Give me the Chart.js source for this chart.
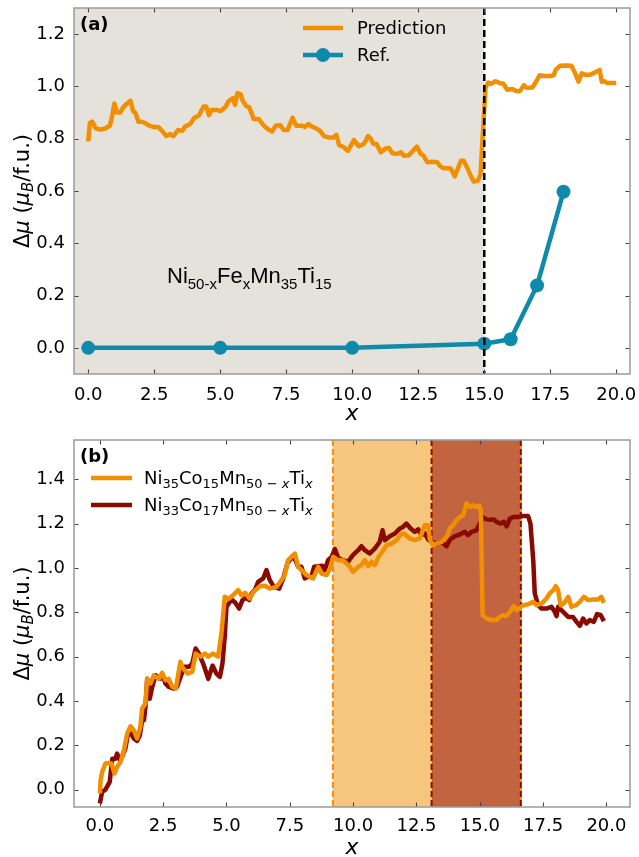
<!DOCTYPE html>
<html><head><meta charset="utf-8">
<script src="https://cdn.jsdelivr.net/npm/chart.js@4.4.1/dist/chart.umd.min.js"></script>
<style>
html,body{margin:0;padding:0;background:#fff;}
#wrap{position:relative;width:639px;height:857px;overflow:hidden;}
canvas{position:absolute;left:0;}
</style></head><body>
<div id="wrap">
<canvas id="c1" width="639" height="428" style="top:0px"></canvas>
<canvas id="c2" width="639" height="429" style="top:428px"></canvas>
</div>
<script>
// ---------- data ----------
const xTickVals = [0, 2.5, 5, 7.5, 10, 12.5, 15, 17.5, 20];
const yTicksA = [0, 0.2, 0.4, 0.6, 0.8, 1.0, 1.2];
const yTicksB = [0, 0.2, 0.4, 0.6, 0.8, 1.0, 1.2, 1.4];

const predX = [0,0.06,0.15,0.28,0.47,0.66,0.82,0.91,0.99,1.09,1.21,1.32,1.47,1.6,1.7,1.78,1.9,2.03,2.15,2.31,2.46,2.65,2.77,2.96,3.1,3.22,3.4,3.56,3.67,3.86,4.02,4.18,4.37,4.47,4.57,4.67,4.87,5.0,5.19,5.31,5.47,5.56,5.65,5.77,5.85,5.98,6.1,6.27,6.46,6.65,6.8,6.97,7.1,7.27,7.4,7.55,7.74,7.87,8.08,8.21,8.34,8.46,8.62,8.78,8.93,9.1,9.3,9.4,9.5,9.68,9.83,9.93,10.06,10.25,10.44,10.6,10.7,10.8,10.92,11.08,11.27,11.39,11.52,11.7,11.85,11.95,12.14,12.3,12.45,12.59,12.7,12.84,13.02,13.22,13.33,13.46,13.65,13.74,13.88,13.99,14.12,14.22,14.35,14.48,14.6,14.76,14.86,14.92,15.0,15.05,15.15,15.25,15.35,15.43,15.5,15.6,15.73,15.87,16.06,16.2,16.35,16.5,16.6,16.82,16.93,17.1,17.25,17.5,17.63,17.7,17.87,18.12,18.3,18.43,18.57,18.69,18.8,19.0,19.13,19.37,19.45,19.55,19.66,20.0];
const predY = [0.79,0.86,0.865,0.84,0.835,0.84,0.85,0.89,0.935,0.9,0.9,0.92,0.935,0.945,0.905,0.9,0.865,0.865,0.86,0.85,0.845,0.845,0.833,0.81,0.818,0.81,0.833,0.83,0.847,0.856,0.88,0.888,0.923,0.923,0.89,0.91,0.91,0.905,0.92,0.943,0.955,0.93,0.975,0.97,0.945,0.925,0.92,0.875,0.875,0.85,0.837,0.828,0.85,0.852,0.833,0.833,0.88,0.85,0.85,0.845,0.856,0.847,0.84,0.83,0.81,0.805,0.805,0.815,0.776,0.767,0.754,0.77,0.795,0.771,0.78,0.81,0.8,0.78,0.78,0.748,0.763,0.765,0.744,0.742,0.748,0.735,0.737,0.754,0.77,0.742,0.735,0.71,0.712,0.71,0.695,0.687,0.687,0.685,0.656,0.684,0.716,0.716,0.69,0.66,0.636,0.64,0.665,0.773,0.913,0.996,1.015,1.01,1.015,1.02,1.017,1.012,1.01,0.987,0.99,0.983,0.982,1.005,0.995,0.996,1.013,1.043,1.04,1.04,1.043,1.063,1.079,1.08,1.079,1.053,1.018,1.05,1.045,1.045,1.05,1.063,1.018,1.02,1.013,1.013];

const refX = [0, 5, 10, 15, 16, 17, 18];
const refY = [0, 0, 0, 0.016, 0.033, 0.239, 0.597];

const co15X = [0,0.03,0.09,0.22,0.36,0.46,0.58,0.68,0.82,0.95,1.08,1.21,1.34,1.47,1.6,1.67,1.8,1.87,2.0,2.13,2.33,2.46,2.59,2.72,2.86,3.0,3.18,3.25,3.45,3.65,3.78,3.97,4.15,4.28,4.47,4.67,4.8,4.93,5.07,5.26,5.46,5.59,5.73,5.92,6.05,6.32,6.51,6.71,6.97,7.17,7.3,7.43,7.7,7.83,8.16,8.42,8.62,8.75,8.95,9.1,9.21,9.41,9.6,9.87,10.0,10.2,10.33,10.46,10.6,10.73,10.86,10.99,11.19,11.32,11.52,11.71,11.91,12.04,12.24,12.43,12.63,12.83,12.96,13.03,13.16,13.29,13.49,13.69,13.82,13.95,14.08,14.21,14.34,14.48,14.61,14.74,14.87,14.98,15.04,15.11,15.27,15.46,15.66,15.79,15.92,16.05,16.19,16.34,16.45,16.58,16.71,16.91,17.11,17.24,17.44,17.63,17.76,17.9,18.0,18.09,18.19,18.32,18.49,18.62,18.79,18.95,19.11,19.28,19.47,19.67,19.8,19.9];
const co15Y = [-0.016,0.043,0.08,0.118,0.12,0.118,0.073,0.103,0.125,0.178,0.253,0.286,0.268,0.231,0.283,0.366,0.389,0.5,0.479,0.516,0.5,0.527,0.494,0.5,0.464,0.456,0.577,0.554,0.524,0.531,0.614,0.6,0.614,0.6,0.614,0.6,0.705,0.87,0.86,0.877,0.9,0.877,0.888,0.862,0.89,0.918,0.92,0.907,0.915,0.945,0.968,1.035,1.065,1.005,0.968,0.953,1.005,0.975,0.968,1.0,1.05,1.035,1.035,1.005,0.982,1.005,1.013,1.035,1.008,1.028,1.013,1.047,1.08,1.103,1.11,1.125,1.155,1.152,1.133,1.125,1.133,1.193,1.193,1.128,1.103,1.11,1.118,1.14,1.178,1.193,1.215,1.23,1.238,1.291,1.275,1.283,1.275,1.28,1.26,0.787,0.772,0.765,0.765,0.78,0.787,0.783,0.802,0.828,0.81,0.82,0.832,0.836,0.847,0.832,0.84,0.862,0.885,0.9,0.918,0.9,0.832,0.84,0.87,0.825,0.832,0.847,0.87,0.855,0.858,0.858,0.87,0.843];

const co17X = [0,0.09,0.22,0.39,0.49,0.62,0.68,0.79,0.88,1.01,1.1,1.24,1.34,1.47,1.58,1.67,1.74,1.8,1.87,1.97,2.07,2.2,2.37,2.5,2.59,2.72,2.92,3.05,3.21,3.34,3.51,3.65,3.78,3.91,4.08,4.28,4.45,4.6,4.74,4.84,4.93,5.0,5.2,5.35,5.5,5.63,5.79,5.9,5.99,6.12,6.25,6.45,6.58,6.71,6.87,7.08,7.24,7.4,7.57,7.7,7.83,7.96,8.09,8.22,8.35,8.46,8.62,8.78,8.88,9.01,9.15,9.28,9.41,9.6,9.8,9.99,10.2,10.33,10.46,10.66,10.86,11.05,11.16,11.25,11.45,11.65,11.84,11.97,12.1,12.27,12.43,12.57,12.7,12.83,12.96,13.1,13.29,13.49,13.69,13.82,14.02,14.15,14.28,14.41,14.54,14.67,14.87,15.0,15.13,15.27,15.42,15.55,15.66,15.82,15.95,16.06,16.19,16.32,16.52,16.71,16.91,17.0,17.11,17.17,17.3,17.44,17.63,17.83,17.96,18.03,18.09,18.29,18.49,18.68,18.82,18.95,19.08,19.21,19.34,19.5,19.63,19.77,19.9];
const co17Y = [-0.062,-0.01,0.0,0.035,0.14,0.14,0.163,0.133,0.15,0.186,0.246,0.253,0.231,0.22,0.246,0.313,0.313,0.373,0.5,0.41,0.464,0.516,0.5,0.51,0.479,0.464,0.456,0.464,0.516,0.554,0.554,0.569,0.637,0.614,0.569,0.5,0.56,0.524,0.509,0.569,0.69,0.825,0.858,0.843,0.817,0.855,0.867,0.855,0.885,0.9,0.937,0.953,0.99,0.945,0.915,0.907,0.953,1.02,1.046,1.04,1.005,1.005,0.953,0.96,0.96,1.005,1.008,1.01,0.99,1.035,1.05,1.085,1.045,1.035,1.028,1.058,1.08,1.098,1.08,1.065,1.088,1.118,1.17,1.125,1.143,1.155,1.178,1.185,1.2,1.178,1.163,1.174,1.148,1.156,1.128,1.118,1.11,1.118,1.098,1.128,1.143,1.148,1.155,1.163,1.148,1.163,1.17,1.2,1.228,1.219,1.217,1.219,1.208,1.2,1.208,1.188,1.223,1.23,1.23,1.234,1.234,1.2,1.035,0.885,0.832,0.817,0.817,0.825,0.802,0.783,0.825,0.802,0.779,0.779,0.757,0.739,0.772,0.75,0.765,0.757,0.792,0.788,0.76];

const shadeA = [null, 15];          // grey region x range (left edge .. 15)
const bandsB = [[9.2, 13.1], [13.1, 16.62]];

// ---------- style ----------
const ORANGE = '#f28f00', TEAL = '#0f8aaa', DARKRED = '#8b0a00';
const LW = 4.5;
const FONT = "'DejaVu Sans', sans-serif";
Chart.defaults.font.family = FONT;
Chart.defaults.color = '#000';

const pts = (xs, ys) => xs.map((x, i) => ({x, y: ys[i]}));

function xScale(min, max, h, pad) {
  return {
    type: 'linear', min, max,
    grid: {display: false, drawTicks: false}, border: {display: false},
    ticks: {font: {size: 18}, color: '#000', padding: pad, maxRotation: 0, autoSkip: false,
            callback: v => Number(v).toFixed(1)},
    afterBuildTicks: s => { s.ticks = xTickVals.map(v => ({value: v})); },
    afterFit: s => { s.height = h; s.paddingLeft = 0; s.paddingRight = 0; }
  };
}
function yScale(min, max, ticks) {
  return {
    type: 'linear', min, max,
    grid: {display: false, drawTicks: false}, border: {display: false},
    ticks: {font: {size: 18}, color: '#000', padding: 9, autoSkip: false,
            callback: v => Number(v).toFixed(1)},
    afterBuildTicks: s => { s.ticks = ticks.map(v => ({value: v})); },
    afterFit: s => { s.width = 74; s.paddingTop = 0; s.paddingBottom = 0; }
  };
}

function drawRich(ctx, parts, x, y, align) {
  let w = 0;
  parts.forEach(p => { ctx.font = p[1]; w += ctx.measureText(p[0]).width; });
  let cx = align === 'center' ? x - w / 2 : x;
  parts.forEach(p => { ctx.font = p[1]; ctx.fillText(p[0], cx, y + (p[2] || 0)); cx += ctx.measureText(p[0]).width; });
}

function frameAndTicks(chart, yt) {
  const {ctx, chartArea: a, scales: {x, y}} = chart;
  ctx.save();
  ctx.strokeStyle = '#444'; ctx.lineWidth = 1.1; ctx.setLineDash([]);
  ctx.beginPath();
  xTickVals.forEach(v => {
    const px = Math.round(x.getPixelForValue(v)) + 0.5;
    ctx.moveTo(px, a.bottom); ctx.lineTo(px, a.bottom - 4.5);
    ctx.moveTo(px, a.top); ctx.lineTo(px, a.top + 4.5);
  });
  yt.forEach(v => {
    const py = Math.round(y.getPixelForValue(v)) + 0.5;
    ctx.moveTo(a.left, py); ctx.lineTo(a.left + 4.5, py);
    ctx.moveTo(a.right, py); ctx.lineTo(a.right - 4.5, py);
  });
  ctx.stroke();
  ctx.strokeStyle = '#9a9a9a'; ctx.lineWidth = 1.5;
  ctx.strokeRect(a.left, a.top, a.right - a.left, a.bottom - a.top);
  ctx.restore();
}

function axisTitles(chart, xBase) {
  const {ctx, chartArea: a} = chart;
  ctx.save();
  ctx.fillStyle = '#000'; ctx.textBaseline = 'alphabetic';
  ctx.font = "italic 22px " + FONT; ctx.textAlign = 'center';
  ctx.fillText('x', (a.left + a.right) / 2, xBase);
  ctx.textAlign = 'left';
  ctx.translate(29, (a.top + a.bottom) / 2);
  ctx.rotate(-Math.PI / 2);
  const R = "21px " + FONT, I = "italic 21px " + FONT, IS = "italic 15px " + FONT;
  drawRich(ctx, [['Δ', R], ['μ', I], [' (', R], ['μ', I], ['B', IS, 4], ['/f.u.)', R]], 0, 0, 'center');
  ctx.restore();
}

// ---------- panel (a) ----------
const plugA = {
  id: 'decoA',
  beforeDatasetsDraw(chart) {
    const {ctx, chartArea: a, scales: {x}} = chart;
    ctx.save();
    ctx.fillStyle = '#e5e2dc';
    const x1 = x.getPixelForValue(shadeA[1]);
    ctx.fillRect(a.left, a.top, x1 - a.left, a.bottom - a.top);
    ctx.restore();
  },
  afterDatasetsDraw(chart) {
    const {ctx, chartArea: a, scales: {x}} = chart;
    ctx.save();
    ctx.strokeStyle = '#000'; ctx.lineWidth = 2.5; ctx.setLineDash([7, 4]);
    const px = x.getPixelForValue(15);
    ctx.beginPath(); ctx.moveTo(px, a.top); ctx.lineTo(px, a.bottom); ctx.stroke();
    ctx.restore();
  },
  afterDraw(chart) {
    const {ctx} = chart;
    frameAndTicks(chart, yTicksA);
    axisTitles(chart, 420);
    ctx.save();
    ctx.fillStyle = '#000'; ctx.textBaseline = 'alphabetic'; ctx.textAlign = 'left';
    ctx.font = "bold 18px " + FONT; ctx.fillText('(a)', 80, 30);
    // legend
    ctx.lineWidth = LW; ctx.lineCap = 'butt';
    ctx.strokeStyle = ORANGE; ctx.beginPath(); ctx.moveTo(303, 28); ctx.lineTo(343, 28); ctx.stroke();
    ctx.strokeStyle = TEAL; ctx.beginPath(); ctx.moveTo(303, 55); ctx.lineTo(343, 55); ctx.stroke();
    ctx.fillStyle = TEAL; ctx.beginPath(); ctx.arc(323, 55, 7, 0, 2 * Math.PI); ctx.fill();
    ctx.fillStyle = '#000'; ctx.font = "18px " + FONT;
    ctx.fillText('Prediction', 357, 34);
    ctx.fillText('Ref.', 357, 61);
    // composition label
    const L = "22px 'Liberation Sans', Arial, sans-serif", S = "15px 'Liberation Sans', Arial, sans-serif";
    drawRich(ctx, [['Ni', L], ['50-x', S, 6], ['Fe', L], ['x', S, 6], ['Mn', L], ['35', S, 6], ['Ti', L], ['15', S, 6]], 167, 283, 'left');
    ctx.restore();
  }
};

new Chart(document.getElementById('c1'), {
  type: 'line',
  data: {datasets: [
    {label: 'Prediction', data: pts(predX, predY), borderColor: ORANGE, borderWidth: LW, pointRadius: 0,
     tension: 0, borderJoinStyle: 'round', fill: false, clip: 0},
    {label: 'Ref.', data: pts(refX, refY), borderColor: TEAL, backgroundColor: TEAL, borderWidth: LW,
     pointRadius: 7, pointBorderWidth: 0, pointBackgroundColor: TEAL, tension: 0, fill: false, clip: 0}
  ]},
  options: {
    responsive: false, animation: false, devicePixelRatio: 1,
    layout: {padding: {top: 8, right: 9, left: 0, bottom: 0}},
    plugins: {legend: {display: false}, tooltip: {enabled: false}},
    scales: {x: xScale(-0.54, 20.52, 54, 11), y: yScale(-0.1, 1.3, yTicksA)}
  },
  plugins: [plugA]
});

// ---------- panel (b) ----------
const plugB = {
  id: 'decoB',
  beforeDatasetsDraw(chart) {
    const {ctx, chartArea: a, scales: {x}} = chart;
    ctx.save();
    const b0 = bandsB[0].map(v => x.getPixelForValue(v));
    const b1 = bandsB[1].map(v => x.getPixelForValue(v));
    ctx.fillStyle = '#f6c67f'; ctx.fillRect(b0[0], a.top, b0[1] - b0[0], a.bottom - a.top);
    ctx.fillStyle = '#c1643f'; ctx.fillRect(b1[0], a.top, b1[1] - b1[0], a.bottom - a.top);
    ctx.lineWidth = 2; ctx.setLineDash([6, 3]);
    const vline = (px, c, off) => { ctx.strokeStyle = c; ctx.lineDashOffset = off || 0; ctx.beginPath(); ctx.moveTo(px, a.top); ctx.lineTo(px, a.bottom); ctx.stroke(); };
    vline(b0[0], ORANGE);
    vline(b0[1], ORANGE);
    vline(b1[0], DARKRED);
    vline(b1[1], ORANGE, 4.5);
    vline(b1[1], DARKRED);
    ctx.restore();
  },
  afterDraw(chart) {
    const {ctx} = chart;
    frameAndTicks(chart, yTicksB);
    axisTitles(chart, 426);
    ctx.save();
    ctx.fillStyle = '#000'; ctx.textBaseline = 'alphabetic'; ctx.textAlign = 'left';
    ctx.font = "bold 18px " + FONT; ctx.fillText('(b)', 80, 34);
    ctx.lineWidth = LW; ctx.lineCap = 'butt';
    ctx.strokeStyle = ORANGE; ctx.beginPath(); ctx.moveTo(91, 50); ctx.lineTo(132, 50); ctx.stroke();
    ctx.strokeStyle = DARKRED; ctx.beginPath(); ctx.moveTo(91, 77); ctx.lineTo(132, 77); ctx.stroke();
    const R = "18px " + FONT, S = "13px " + FONT, SI = "italic 13px " + FONT;
    drawRich(ctx, [['Ni', R], ['35', S, 4], ['Co', R], ['15', S, 4], ['Mn', R], ['50 − ', S, 4], ['x', SI, 4], ['Ti', R], ['x', SI, 4]], 144, 56, 'left');
    drawRich(ctx, [['Ni', R], ['33', S, 4], ['Co', R], ['17', S, 4], ['Mn', R], ['50 − ', S, 4], ['x', SI, 4], ['Ti', R], ['x', SI, 4]], 144, 83, 'left');
    ctx.restore();
  }
};

new Chart(document.getElementById('c2'), {
  type: 'line',
  data: {datasets: [
    {label: 'Ni35Co15Mn50-xTix', data: pts(co15X, co15Y), borderColor: ORANGE, borderWidth: LW, pointRadius: 0,
     tension: 0, borderJoinStyle: 'round', fill: false, clip: 0},
    {label: 'Ni33Co17Mn50-xTix', data: pts(co17X, co17Y), borderColor: DARKRED, borderWidth: LW, pointRadius: 0,
     tension: 0, borderJoinStyle: 'round', fill: false, clip: 0}
  ]},
  options: {
    responsive: false, animation: false, devicePixelRatio: 1,
    layout: {padding: {top: 12, right: 9, left: 0, bottom: 0}},
    plugins: {legend: {display: false}, tooltip: {enabled: false}},
    scales: {x: xScale(-1.02, 20.93, 50, 9), y: yScale(-0.078, 1.577, yTicksB)}
  },
  plugins: [plugB]
});
</script>
</body></html>
